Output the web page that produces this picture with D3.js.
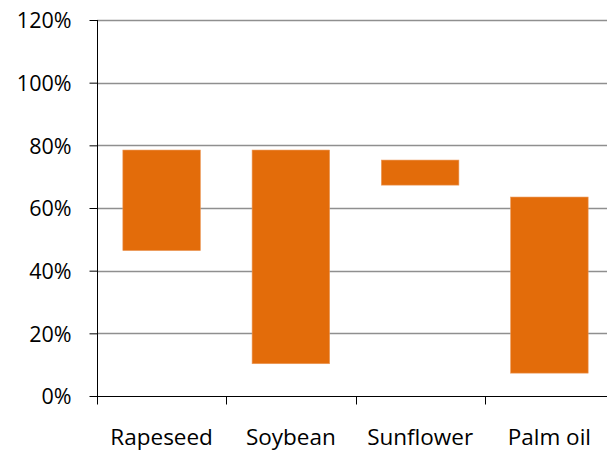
<!DOCTYPE html>
<html>
<head>
<meta charset="utf-8">
<script src="https://cdn.jsdelivr.net/npm/d3@7"></script>
<style>
  html, body { margin: 0; padding: 0; background: #fff; }
  svg { display: block; }
  text { font-family: "Open Sans", sans-serif; fill: #000; }
</style>
</head>
<body>
<svg id="chart" width="607" height="451"></svg>
<script>
// Oil crops: range of share (low to high)
const categories = ["Rapeseed", "Soybean", "Sunflower", "Palm oil"];
const lowValues  = [46.4, 10.3, 67.3, 7.3];
const highValues = [78.5, 78.5, 75.3, 63.5];
const yTicks = [0, 20, 40, 60, 80, 100, 120];

const svg = d3.select("#chart");
const plotLeft = 97, plotRight = 614, plotTop = 20, plotBottom = 396;

const x = d3.scaleBand()
  .domain(categories)
  .range([plotLeft, plotRight])
  .paddingInner(0.4)
  .paddingOuter(0.2);

const y = d3.scaleLinear().domain([0, 120]).range([plotBottom, plotTop]);

// horizontal gridlines
svg.append("g")
  .selectAll("line")
  .data(yTicks.filter(d => d > 0))
  .join("line")
  .attr("x1", plotLeft).attr("x2", 607)
  .attr("y1", d => Math.round(y(d)) + 0.5)
  .attr("y2", d => Math.round(y(d)) + 0.5)
  .attr("stroke", "#8f8f8f")
  .attr("stroke-width", 1.6);

// floating range bars
svg.append("g")
  .selectAll("rect")
  .data(categories)
  .join("rect")
  .attr("x", d => x(d))
  .attr("width", x.bandwidth())
  .attr("y", (d, i) => y(highValues[i]))
  .attr("height", (d, i) => y(lowValues[i]) - y(highValues[i]))
  .attr("fill", "#e36c0a")
  .attr("stroke", "#ec9a5c")
  .attr("stroke-width", 0.6);

// y axis
const yAxis = d3.axisLeft(y)
  .tickValues(yTicks)
  .tickFormat(d => d + "%")
  .tickSize(8)
  .tickPadding(18);
const gy = svg.append("g")
  .attr("transform", `translate(${plotLeft + 0.5},0)`)
  .call(yAxis);
gy.select(".domain").attr("stroke", "#000").attr("d", `M0,${plotBottom + 8}V${plotTop}`);
gy.selectAll(".tick line").attr("stroke", "#000");
gy.selectAll(".tick text")
  .style("font-size", "21.5px")
  .attr("dy", "0.36em");

// x axis with ticks at band boundaries
const gx = svg.append("g").attr("transform", `translate(0,${plotBottom + 0.5})`);
gx.append("line")
  .attr("x1", plotLeft).attr("x2", 607)
  .attr("stroke", "#000");
const boundaries = categories.map(c => x(c) - x.step() * x.paddingInner() / 2);
gx.selectAll(".bt")
  .data(boundaries)
  .join("line")
  .attr("class", "bt")
  .attr("x1", d => Math.round(d) + 0.5).attr("x2", d => Math.round(d) + 0.5)
  .attr("y1", 0).attr("y2", 8)
  .attr("stroke", "#000");
gx.selectAll("text")
  .data(categories)
  .join("text")
  .attr("x", d => x(d) + x.bandwidth() / 2)
  .attr("y", 48)
  .attr("text-anchor", "middle")
  .style("font-size", "22.5px")
  .text(d => d);
</script>
</body>
</html>
